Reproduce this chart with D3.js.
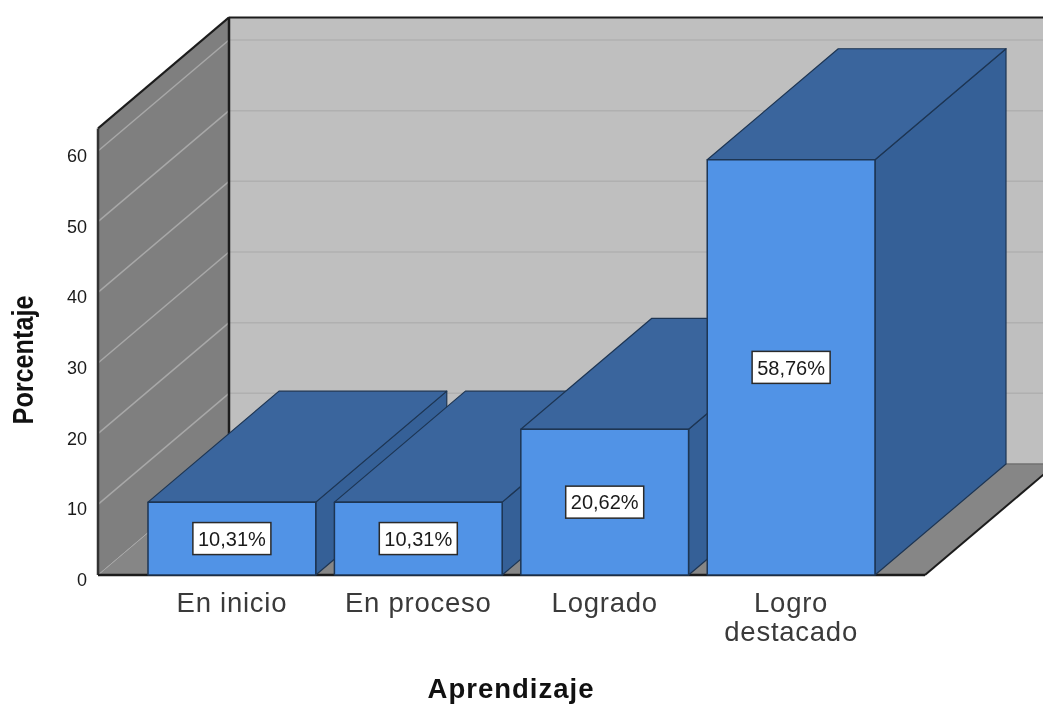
<!DOCTYPE html>
<html><head><meta charset="utf-8">
<script src="https://cdn.jsdelivr.net/npm/d3@7"></script>
<style>html,body{margin:0;padding:0;background:#fff}svg{display:block;filter:blur(0.45px)}text{font-family:"Liberation Sans",Arial,sans-serif}</style>
</head><body><svg id="c" width="1043" height="704"></svg>
<script>
const categories = ["En inicio","En proceso","Logrado","Logro destacado"];
const values = [10.31,10.31,20.62,58.76];
const labels = ["10,31%","10,31%","20,62%","58,76%"];
const yTicks = [0,10,20,30,40,50,60];
const yMax = 63.2;

const W=1043,H=704;
const svg=d3.select("#c");
const x0=98,x1=925,y0=575,dx=131,dy=111;
const y=d3.scaleLinear().domain([0,60]).range([y0,151]);
const x=d3.scaleBand().domain(categories).range([148,875]).paddingInner(0.1);
const poly=(pts,fill,stroke,sw)=>svg.append("polygon").attr("points",pts.map(p=>p.join(",")).join(" ")).attr("fill",fill).attr("stroke",stroke||"none").attr("stroke-width",sw||0).attr("stroke-linejoin","round");
const line=(a,b,c,w)=>svg.append("line").attr("x1",a[0]).attr("y1",a[1]).attr("x2",b[0]).attr("y2",b[1]).attr("stroke",c).attr("stroke-width",w);
const yt=y(yMax);

// walls and floor
poly([[x0+dx,yt-dy],[W+5,yt-dy],[W+5,y0-dy],[x0+dx,y0-dy]],"#bfbfbf");
poly([[x0,y0],[x0,yt],[x0+dx,yt-dy],[x0+dx,y0-dy]],"#7f7f7f");
poly([[x0,y0],[x1,y0],[x1+dx,y0-dy],[x0+dx,y0-dy]],"#868686");
// gridlines
yTicks.slice(1).forEach(t=>{
  line([x0,y(t)],[x0+dx,y(t)-dy],"#a8a8a8",1.5);
  line([x0+dx,y(t)-dy],[W,y(t)-dy],"#b0b0b0",1.5);
});
line([x0,y0],[x0+dx,y0-dy],"#a8a8a8",1);
line([x0+dx,y0-dy],[W,y0-dy],"#707070",1.5);
// frame
line([x0+dx,yt-dy],[x0+dx,y0-dy],"#1c1c1c",2.5);
line([x0+dx,yt-dy],[W,yt-dy],"#1c1c1c",2);
line([x0,yt],[x0+dx,yt-dy],"#1c1c1c",2);
line([x0,yt],[x0,y0],"#333",2.5);
line([x0,y0],[x1,y0],"#1c1c1c",2.5);
line([x1,y0],[x1+dx,y0-dy],"#1c1c1c",2);

// bars
const stroke="#1d3553";
categories.forEach((c,i)=>{
  const l=x(c),r=l+x.bandwidth(),t=y(values[i]);
  poly([[r,t],[r+dx,t-dy],[r+dx,y0-dy],[r,y0]],"#356097",stroke,1.2);
  poly([[l,t],[r,t],[r+dx,t-dy],[l+dx,t-dy]],"#3a659d",stroke,1.2);
  poly([[l,t],[r,t],[r,y0],[l,y0]],"#5193e6",stroke,1.5);
});
// value labels
const lw=78,lh=32;
categories.forEach((c,i)=>{
  const cx=x(c)+x.bandwidth()/2, cy=(y(values[i])+y0)/2;
  svg.append("rect").attr("x",cx-lw/2).attr("y",cy-lh/2).attr("width",lw).attr("height",lh).attr("fill","#fff").attr("stroke","#2a2a2a").attr("stroke-width",1.5);
  svg.append("text").attr("x",cx).attr("y",cy).attr("dy","0.36em").attr("text-anchor","middle").attr("font-size",20).attr("fill","#1a1a1a").text(labels[i]);
});

// y axis
const ya=svg.append("g").attr("transform",`translate(${x0},0)`).call(d3.axisLeft(y).tickValues(yTicks).tickSize(0).tickPadding(11).tickFormat(d3.format("d")));
ya.select(".domain").remove();
ya.selectAll("text").attr("font-size",18).attr("fill","#1a1a1a").attr("dy","0.58em").style("font-family",'"Liberation Sans",Arial,sans-serif');

// x axis
const xa=svg.append("g").attr("transform",`translate(0,${y0})`).call(d3.axisBottom(x).tickSize(0).tickPadding(0));
xa.select(".domain").remove();
xa.selectAll("text").attr("font-size",27.5).attr("letter-spacing",0.75).attr("fill","#3a3a3a").style("font-family",'"Liberation Sans",Arial,sans-serif').each(function(d){
  const t=d3.select(this),w=d.split(" ");t.text(null);
  const parts=d==="Logro destacado"?w:[d];
  parts.forEach((p,i)=>t.append("tspan").attr("x",0).attr("y",37+i*28.5).attr("dy",0).text(p));
});

// titles
svg.append("text").attr("x",511).attr("y",697.5).attr("text-anchor","middle").attr("font-size",27.5).attr("letter-spacing",1).attr("font-weight","bold").attr("fill","#111").text("Aprendizaje");
svg.append("text").attr("transform","translate(33,360) rotate(-90) scale(0.84,1)").attr("text-anchor","middle").attr("font-size",30).attr("font-weight","bold").attr("fill","#111").text("Porcentaje");
</script></body></html>
